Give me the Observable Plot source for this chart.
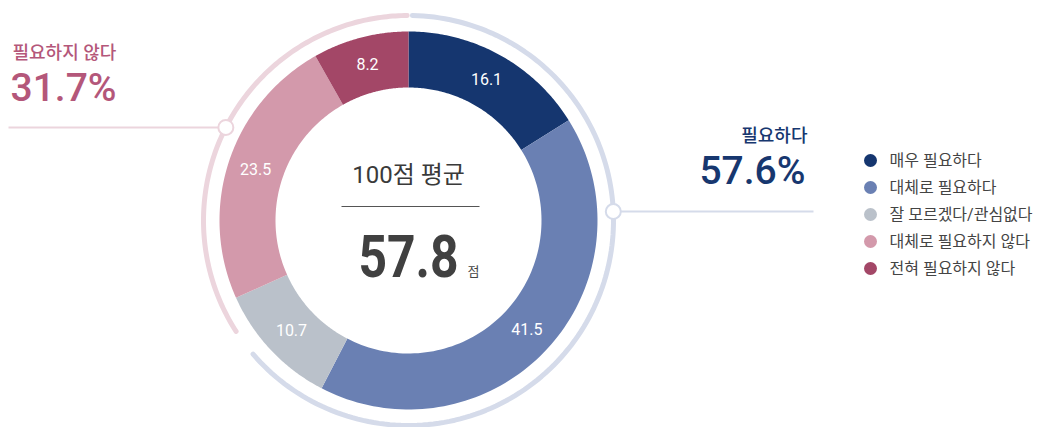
<!DOCTYPE html>
<html><head><meta charset="utf-8">
<script src="https://cdn.jsdelivr.net/npm/d3@7"></script>
<script src="https://cdn.jsdelivr.net/npm/@observablehq/plot@0.6"></script>
<style>body{margin:0;background:#fff}#chart svg{display:block}</style>
</head><body><div id="chart"></div>
<script>
// ---- data ----
const categories = ["매우 필요하다", "대체로 필요하다", "잘 모르겠다/관심없다", "대체로 필요하지 않다", "전혀 필요하지 않다"];
const values = [16.1, 41.5, 10.7, 23.5, 8.2];
const sliceColors = ["#15366f", "#6a80b3", "#bac1ca", "#d399ab", "#a34767"];
const groupLabels = ["필요하다", "필요하지 않다"];
const groupValues = [57.6, 31.7];
const groupTextColors = ["#17376f", "#b4577a"];
const groupRingColors = ["#d5dbea", "#ecd5dd"];
const ringStart = [0.3, 65.9];   // percent of full circle
const ringEnd = [63.7, 99.9];
const averageTitle = "100점 평균";
const averageValue = 57.8;
const averageUnit = "점";

// ---- layout ----
const W = 1043, H = 427, cx = 408, cy = 220, rOuter = 189, rInner = 133, rRing = 205;
const pol = (pct, r) => { const a = pct / 100 * 2 * Math.PI; return [cx + r * Math.sin(a), cy - r * Math.cos(a)]; };
const arcPts = (p0, p1, r, n) => d3.range(n + 1).map(j => pol(p0 + (p1 - p0) * j / n, r));

const cum = d3.cumsum(values);
const starts = cum.map((c, i) => c - values[i]);

const slicePts = categories.flatMap((k, i) => {
  const outer = arcPts(starts[i], cum[i], rOuter, 90);
  const inner = arcPts(cum[i], starts[i], rInner, 90);
  return [...outer, ...inner, outer[0]].map(([x, y]) => ({key: k, x, y}));
});
const seps = cum.map(c => { const a = pol(c, rInner - 1), b = pol(c, rOuter + 1); return {x1: a[0], y1: a[1], x2: b[0], y2: b[1]}; });
const labels = categories.map((k, i) => { const p = pol((starts[i] + cum[i]) / 2, (rOuter + rInner) / 2); return {x: p[0], y: p[1], t: values[i].toFixed(1)}; });

const markerPct = [24.3, 82.5];
const markers = markerPct.map(p => pol(p, rRing));

const marks = [];
marks.push(Plot.line(slicePts, {x: "x", y: "y", z: "key", fill: "key", stroke: null, curve: "linear"}));
marks.push(Plot.link(seps, {x1: "x1", y1: "y1", x2: "x2", y2: "y2", stroke: "#fff", strokeWidth: 1.5}));
marks.push(Plot.text(labels, {x: "x", y: "y", text: "t", fill: "#fff", fontSize: 16}));
groupLabels.forEach((g, i) => {
  const pts = arcPts(ringStart[i], ringEnd[i], rRing, 150).map(([x, y]) => ({x, y}));
  marks.push(Plot.line(pts, {x: "x", y: "y", stroke: groupRingColors[i], strokeWidth: 5, curve: "linear"}));
});
// leaders
const leaderRight = [{x1: markers[0][0], y1: markers[0][1], x2: 813, y2: markers[0][1]}];
const leaderLeft = [{x1: 8, y1: markers[1][1], x2: markers[1][0], y2: markers[1][1]}];
marks.push(Plot.link(leaderRight, {x1: "x1", y1: "y1", x2: "x2", y2: "y2", stroke: groupRingColors[0], strokeWidth: 2}));
marks.push(Plot.link(leaderLeft, {x1: "x1", y1: "y1", x2: "x2", y2: "y2", stroke: groupRingColors[1], strokeWidth: 2}));
marks.push(Plot.dot([markers[0]], {x: d => d[0], y: d => d[1], r: 7.5, fill: "#fff", stroke: groupRingColors[0], strokeWidth: 2}));
marks.push(Plot.dot([markers[1]], {x: d => d[0], y: d => d[1], r: 7.5, fill: "#fff", stroke: groupRingColors[1], strokeWidth: 2}));
// group annotations
marks.push(Plot.text([groupLabels[0]], {x: () => 807, y: () => 136, text: d => d, textAnchor: "end", fill: groupTextColors[0], fontSize: 18, fontWeight: 500}));
marks.push(Plot.text([groupValues[0]], {x: () => 805, y: () => 171, text: d => d.toFixed(1) + "%", textAnchor: "end", fill: groupTextColors[0], fontSize: 39, fontWeight: 500}));
marks.push(Plot.text([groupLabels[1]], {x: () => 12, y: () => 53, text: d => d, textAnchor: "start", fill: groupTextColors[1], fontSize: 18, fontWeight: 500}));
marks.push(Plot.text([groupValues[1]], {x: () => 10, y: () => 88, text: d => d.toFixed(1) + "%", textAnchor: "start", fill: groupTextColors[1], fontSize: 39, fontWeight: 500}));
// center
marks.push(Plot.text([averageTitle], {x: () => cx, y: () => 175, text: d => d, fill: "#3a3a3a", fontSize: 24, fontWeight: 400}));
marks.push(Plot.link([0], {x1: () => 341, x2: () => 479, y1: () => 206, y2: () => 206, stroke: "#555", strokeWidth: 1}));
marks.push(Plot.text([averageValue], {x: () => cx, y: () => 257, text: d => d.toFixed(1), fill: "#404040", fontSize: 60, fontWeight: 700}));
marks.push(Plot.text([averageUnit], {x: () => 473, y: () => 271, text: d => d, fill: "#444", fontSize: 13}));
// legend
marks.push(Plot.dot(categories, {x: () => 870, y: (d, i) => 160 + i * 27, fill: d => d, r: 6.5}));
marks.push(Plot.text(categories, {x: () => 889, y: (d, i) => 160 + i * 27, text: d => d, textAnchor: "start", fill: "#444", fontSize: 16}));

const chart = Plot.plot({
  width: W, height: H, margin: 0,
  x: {domain: [0, W], range: [0, W], axis: null},
  y: {domain: [0, H], range: [0, H], axis: null},
  color: {domain: categories, range: sliceColors},
  style: {fontFamily: "Roboto, 'Noto Sans CJK KR', sans-serif", background: "#fff"},
  marks
});
d3.select(chart).selectAll("text").filter(function () { return this.textContent === averageValue.toFixed(1); })
  .each(function () {
    const t = this.getAttribute("transform") || "";
    this.setAttribute("transform", t + " scale(0.83,1)");
  });
document.getElementById("chart").appendChild(chart);
</script>
</body></html>
